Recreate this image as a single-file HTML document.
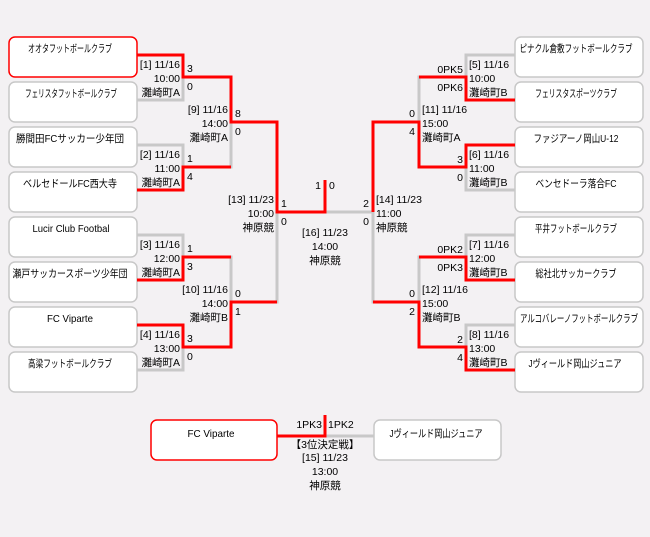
<!DOCTYPE html>
<html><head><meta charset="utf-8"><style>
html,body{margin:0;padding:0;background:#f3f1f3;}
svg{display:block;}
text{font-family:"Liberation Sans","Noto Sans CJK JP",sans-serif;font-size:10.5px;fill:#000;}
.n{font-size:10.5px;text-anchor:middle}
.r{text-anchor:end}.c{text-anchor:middle}
</style></head><body>
<svg width="650" height="537" viewBox="0 0 650 537" xmlns="http://www.w3.org/2000/svg">
<rect width="650" height="537" fill="#f3f1f3"/>
<g fill="#fff" stroke="#c8c8c8" stroke-width="1.5">
<rect x="9" y="37" width="128" height="40" rx="6" stroke="#f00"/>
<rect x="9" y="82" width="128" height="40" rx="6"/>
<rect x="9" y="127" width="128" height="40" rx="6"/>
<rect x="9" y="172" width="128" height="40" rx="6"/>
<rect x="9" y="217" width="128" height="40" rx="6"/>
<rect x="9" y="262" width="128" height="40" rx="6"/>
<rect x="9" y="307" width="128" height="40" rx="6"/>
<rect x="9" y="352" width="128" height="40" rx="6"/>
<rect x="515" y="37" width="128" height="40" rx="6"/>
<rect x="515" y="82" width="128" height="40" rx="6"/>
<rect x="515" y="127" width="128" height="40" rx="6"/>
<rect x="515" y="172" width="128" height="40" rx="6"/>
<rect x="515" y="217" width="128" height="40" rx="6"/>
<rect x="515" y="262" width="128" height="40" rx="6"/>
<rect x="515" y="307" width="128" height="40" rx="6"/>
<rect x="515" y="352" width="128" height="40" rx="6"/>
<rect x="151" y="420" width="126" height="40" rx="6" stroke="#f00"/>
<rect x="374" y="420" width="127" height="40" rx="6"/>
</g>
<g fill="none" stroke="#c8c8c8" stroke-width="3">
<path d="M137 55H183V100H137M137 145H183V190H137M137 235H183V280H137M137 325H183V370H137"/>
<path d="M183 77H231V167H183M183 257H231V347H183"/>
<path d="M231 122H277V302H231"/>
<path d="M515 55H466V100H515M515 145H466V190H515M515 235H466V280H515M515 325H466V370H515"/>
<path d="M466 77H419V167H466M466 257H419V347H466"/>
<path d="M419 122H373V302H419"/>
<path d="M277 212H373"/>
<path d="M325 436H374"/>
</g>
<g fill="none" stroke="#f00" stroke-width="3">
<path d="M137 55H183V77H231V122H277V212H325V180"/>
<path d="M137 190H183V167H231"/>
<path d="M137 280H183V257H231"/>
<path d="M137 325H183V347H231V302H277"/>
<path d="M515 100H466V77H419"/>
<path d="M515 145H466V167H419V122H373V212"/>
<path d="M515 280H466V257H419"/>
<path d="M515 370H466V347H419V302H373"/>
<path d="M277 436H325V415"/>
</g>
<g>
<text x="70" y="52" class="n" textLength="84" lengthAdjust="spacingAndGlyphs">オオタフットボールクラブ</text>
<text x="71" y="97" class="n" textLength="92" lengthAdjust="spacingAndGlyphs">フェリスタフットボールクラブ</text>
<text x="70" y="142" class="n" textLength="108" lengthAdjust="spacingAndGlyphs">勝間田FCサッカー少年団</text>
<text x="70" y="187" class="n" textLength="94" lengthAdjust="spacingAndGlyphs">ベルセドールFC西大寺</text>
<text x="71" y="232" class="n" textLength="77" lengthAdjust="spacingAndGlyphs">Lucir Club Footbal</text>
<text x="70" y="277" class="n" textLength="115" lengthAdjust="spacingAndGlyphs">瀬戸サッカースポーツ少年団</text>
<text x="70" y="322" class="n" textLength="46" lengthAdjust="spacingAndGlyphs">FC Viparte</text>
<text x="70" y="367" class="n" textLength="84" lengthAdjust="spacingAndGlyphs">高梁フットボールクラブ</text>
<text x="576" y="52" class="n" textLength="113" lengthAdjust="spacingAndGlyphs">ピナクル倉敷フットボールクラブ</text>
<text x="576" y="97" class="n" textLength="82" lengthAdjust="spacingAndGlyphs">フェリスタスポーツクラブ</text>
<text x="576" y="142" class="n" textLength="85" lengthAdjust="spacingAndGlyphs">ファジアーノ岡山U-12</text>
<text x="576" y="187" class="n" textLength="81" lengthAdjust="spacingAndGlyphs">ベンセドーラ落合FC</text>
<text x="576" y="232" class="n" textLength="82" lengthAdjust="spacingAndGlyphs">平井フットボールクラブ</text>
<text x="576" y="277" class="n" textLength="81" lengthAdjust="spacingAndGlyphs">総社北サッカークラブ</text>
<text x="579" y="322" class="n" textLength="118" lengthAdjust="spacingAndGlyphs">アルコバレーノフットボールクラブ</text>
<text x="575" y="367" class="n" textLength="93" lengthAdjust="spacingAndGlyphs">Jヴィールド岡山ジュニア</text>
<text x="211" y="437" class="n" textLength="47" lengthAdjust="spacingAndGlyphs">FC Viparte</text>
<text x="436" y="437" class="n" textLength="93" lengthAdjust="spacingAndGlyphs">Jヴィールド岡山ジュニア</text>
</g>
<text x="180" y="68" class="r">[1] 11/16</text><text x="180" y="82" class="r">10:00</text><text x="180" y="96" class="r">灘崎町A</text>
<text x="180" y="158" class="r">[2] 11/16</text><text x="180" y="172" class="r">11:00</text><text x="180" y="186" class="r">灘崎町A</text>
<text x="180" y="248" class="r">[3] 11/16</text><text x="180" y="262" class="r">12:00</text><text x="180" y="276" class="r">灘崎町A</text>
<text x="180" y="338" class="r">[4] 11/16</text><text x="180" y="352" class="r">13:00</text><text x="180" y="366" class="r">灘崎町A</text>
<text x="228" y="113" class="r">[9] 11/16</text><text x="228" y="127" class="r">14:00</text><text x="228" y="141" class="r">灘崎町A</text>
<text x="228" y="293" class="r">[10] 11/16</text><text x="228" y="307" class="r">14:00</text><text x="228" y="321" class="r">灘崎町B</text>
<text x="274" y="203" class="r">[13] 11/23</text><text x="274" y="217" class="r">10:00</text><text x="274" y="231" class="r">神原競</text>
<text x="187" y="72">3</text><text x="187" y="90">0</text>
<text x="187" y="162">1</text><text x="187" y="180">4</text>
<text x="187" y="252">1</text><text x="187" y="270">3</text>
<text x="187" y="342">3</text><text x="187" y="360">0</text>
<text x="235" y="117">8</text><text x="235" y="135">0</text>
<text x="235" y="297">0</text><text x="235" y="315">1</text>
<text x="281" y="207">1</text><text x="281" y="225">0</text>
<text x="469" y="68">[5] 11/16</text><text x="469" y="82">10:00</text><text x="469" y="96">灘崎町B</text>
<text x="469" y="158">[6] 11/16</text><text x="469" y="172">11:00</text><text x="469" y="186">灘崎町B</text>
<text x="469" y="248">[7] 11/16</text><text x="469" y="262">12:00</text><text x="469" y="276">灘崎町B</text>
<text x="469" y="338">[8] 11/16</text><text x="469" y="352">13:00</text><text x="469" y="366">灘崎町B</text>
<text x="422" y="113">[11] 11/16</text><text x="422" y="127">15:00</text><text x="422" y="141">灘崎町A</text>
<text x="422" y="293">[12] 11/16</text><text x="422" y="307">15:00</text><text x="422" y="321">灘崎町B</text>
<text x="376" y="203">[14] 11/23</text><text x="376" y="217">11:00</text><text x="376" y="231">神原競</text>
<text x="463" y="73" class="r">0PK5</text><text x="463" y="91" class="r">0PK6</text>
<text x="463" y="163" class="r">3</text><text x="463" y="181" class="r">0</text>
<text x="463" y="253" class="r">0PK2</text><text x="463" y="271" class="r">0PK3</text>
<text x="463" y="343" class="r">2</text><text x="463" y="361" class="r">4</text>
<text x="415" y="117" class="r">0</text><text x="415" y="135" class="r">4</text>
<text x="415" y="297" class="r">0</text><text x="415" y="315" class="r">2</text>
<text x="369" y="207" class="r">2</text><text x="369" y="225" class="r">0</text>
<text x="321" y="189" class="r">1</text><text x="329" y="189">0</text>
<text x="325" y="236" class="c">[16] 11/23</text>
<text x="325" y="250" class="c">14:00</text>
<text x="325" y="264" class="c">神原競</text>
<text x="322" y="428" class="r">1PK3</text><text x="328" y="428">1PK2</text>
<text x="325" y="448" class="c">【3位決定戦】</text>
<text x="325" y="461" class="c">[15] 11/23</text>
<text x="325" y="475" class="c">13:00</text>
<text x="325" y="489" class="c">神原競</text>
</svg>
</body></html>
